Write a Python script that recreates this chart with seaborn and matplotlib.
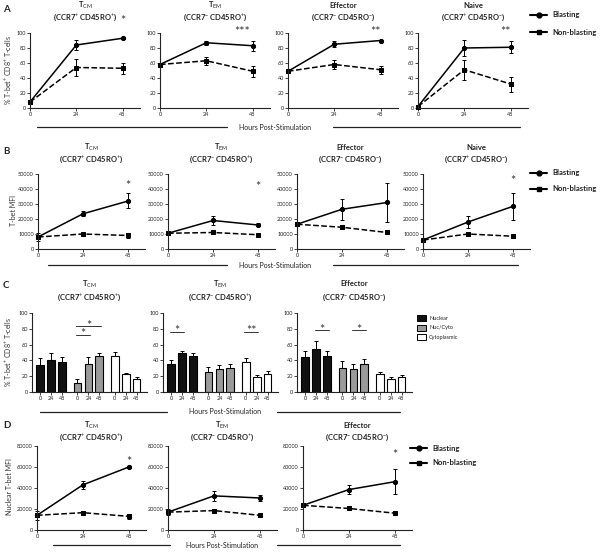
import numpy as np
import pandas as pd
import seaborn as sns
import matplotlib.pyplot as plt
from matplotlib.lines import Line2D
from matplotlib.patches import Rectangle

sns.set_style("ticks")
plt.rcParams['font.family'] = ['Lato', 'DejaVu Sans']
plt.rcParams['mathtext.fontset'] = 'custom'
plt.rcParams['mathtext.rm'] = 'Lato'
plt.rcParams['mathtext.bf'] = 'Lato:bold'
plt.rcParams['mathtext.it'] = 'Lato:italic'

# ---- data -------------------------------------------------------------
hours = [0, 24, 48]
names = [r'T$_{\rm CM}$', r'T$_{\rm EM}$', 'Effector', 'Naive']
phenos = [r'(CCR7$^{+}$ CD45RO$^{+}$)', r'(CCR7$^{-}$ CD45RO$^{+}$)',
          r'(CCR7$^{-}$ CD45RO$^{-}$)', r'(CCR7$^{+}$ CD45RO$^{-}$)']

# A: % T-bet+ CD8+ T-cells
a_blast = [[8, 84, 93], [58, 87, 83], [49, 85, 90], [2, 80, 81]]
a_blast_err = [[1, 7, 1], [2, 3, 7], [2, 4, 1], [1, 11, 8]]
a_non = [[8, 54, 53], [58, 63, 49], [49, 58, 51], [2, 51, 32]]
a_non_err = [[1, 11, 7], [2, 5, 7], [2, 6, 5], [1, 13, 10]]
a_stars = ['*', '***', '**', '**']
a_star_y = [116, 102, 102, 102]

# B: T-bet MFI
b_blast = [[8000, 23500, 32000], [10500, 19000, 16000], [16500, 26500, 31000], [6000, 18000, 28500]]
b_blast_err = [[2500, 1500, 5000], [1000, 3000, 1000], [1500, 7000, 13000], [500, 4000, 9000]]
b_non = [[8000, 10000, 9000], [10500, 11000, 9500], [16500, 14500, 11000], [6000, 10000, 8500]]
b_non_err = [[1000, 500, 1500], [500, 500, 300], [1000, 1500, 500], [500, 1500, 1000]]
b_stars = ['*', '*', '', '*']
b_star_y = [42000, 41000, 0, 45000]

# C: localisation of T-bet (% of CD8+ T-cells)
compartments = ['Nuclear', 'Nuc/Cyto', 'Cytoplasmic']
c_nuc = [[34, 40, 38], [36, 50, 45], [44, 54, 45]]
c_nuc_err = [[9, 9, 6], [4, 2, 4], [8, 10, 7]]
c_nc = [[12, 36, 46], [25, 29, 30], [31, 29, 35]]
c_nc_err = [[4, 8, 4], [7, 5, 5], [8, 7, 7]]
c_cyto = [[46, 23, 16], [38, 19, 23], [23, 16, 19]]
c_cyto_err = [[5, 1, 3], [5, 2, 4], [2, 3, 3]]
# (bar from, bar to, height, label)
c_brackets = [[(3, 4, 72, '*'), (3, 5, 83, '*')],
              [(0, 1, 76, '*'), (6, 7, 76, '**')],
              [(1, 2, 78, '*'), (4, 5, 78, '*')]]

# D: nuclear T-bet MFI
d_blast = [[14000, 43000, 60000], [17000, 32500, 30500], [23500, 38500, 46000]]
d_blast_err = [[4000, 4000, 500], [3000, 5000, 3000], [1000, 4500, 12000]]
d_non = [[14000, 16500, 13000], [17000, 18500, 14000], [23500, 20500, 16000]]
d_non_err = [[1500, 1000, 2500], [1000, 500, 500], [1000, 1000, 500]]
d_stars = ['*', '', '*']
d_star_y = [65000, 0, 71000]

# ---- layout (pixel coordinates of a 600 x 554 canvas) ------------------
W, H = 600, 554
fig = plt.figure(figsize=(6, 5.54), dpi=100)


def px_axes(x0, top, width, bottom):
    return fig.add_axes([x0 / W, 1 - bottom / H, width / W, (bottom - top) / H])


def fx(x):
    return x / W


def fy(y):
    return 1 - y / H


def style(ax):
    sns.despine(ax=ax)
    ax.tick_params(labelsize=4, length=2, width=0.6, pad=1, colors='#222222')
    for s in ['left', 'bottom']:
        ax.spines[s].set_linewidth(0.8)
        ax.spines[s].set_color('#222222')
    ax.set_xlabel('')
    ax.set_ylabel('')


def title(ax, i, y1, y2):
    pos = ax.get_position()
    cx = (pos.x0 + pos.x1) / 2
    fig.text(cx, fy(y1), names[i], ha='center', va='center', fontsize=5.5, fontweight='bold', color='#222222')
    fig.text(cx, fy(y2), phenos[i], ha='center', va='center', fontsize=5.5, fontweight='bold', color='#222222')


def line_panel(ax, blast, blast_err, non, non_err, ymax, ystep, star, star_y):
    sns.lineplot(x=hours, y=blast, ax=ax, color='black', marker='o', ms=3, mec='black',
                 lw=1.1, errorbar=None, clip_on=False)
    sns.lineplot(x=hours, y=non, ax=ax, color='black', marker='s', ms=3, mec='black',
                 lw=1.1, linestyle='--', errorbar=None, clip_on=False)
    for v, e in [(blast, blast_err), (non, non_err)]:
        ax.errorbar(hours, v, yerr=e, fmt='none', ecolor='black', elinewidth=0.7,
                    capsize=1.5, capthick=0.7, clip_on=False)
    ax.set_xlim(0, 57)
    ax.set_ylim(0, ymax)
    ax.set_xticks(hours)
    ax.set_yticks(np.arange(0, ymax + 1, ystep))
    if star:
        ax.text(48 - (len(star) - 1) * 2.6, star_y, star, ha='center', va='center',
                fontsize=9, color='#333333', clip_on=False)
    style(ax)


def hours_label(y, x_text, seg1, seg2):
    fig.text(fx(x_text), fy(y), 'Hours Post-Stimulation', ha='center', va='center', fontsize=5, color='#222222')
    for a, b in (seg1, seg2):
        fig.add_artist(Line2D([fx(a), fx(b)], [fy(y), fy(y)], color='#222222', lw=0.9))


def line_legend(x, y1, y2):
    for yy, m, lab in [(y1, 'o', 'Blasting'), (y2, 's', 'Non-blasting')]:
        fig.add_artist(Line2D([fx(x), fx(x + 17)], [fy(yy), fy(yy)], color='black', lw=1.5))
        fig.add_artist(Line2D([fx(x + 8.5)], [fy(yy)], color='black', marker=m, ms=3.5))
        fig.text(fx(x + 22), fy(yy), lab, ha='left', va='center', fontsize=5.5, fontweight='bold', color='#222222')


letter_kw = dict(fontsize=7, fontweight='bold', ha='left', va='center')
ylab_kw = dict(fontsize=5, rotation=90, ha='center', va='center', color='#333333')

# ---- row A --------------------------------------------------------------
a_x0 = [30, 160, 288, 418]
for i in range(4):
    ax = px_axes(a_x0[i], 33, 110, 108)
    line_panel(ax, a_blast[i], a_blast_err[i], a_non[i], a_non_err[i], 100, 20, a_stars[i], a_star_y[i])
    title(ax, i, 5, 17)
fig.text(fx(3), fy(10), 'A', **letter_kw)
fig.text(fx(9), fy(70), r'% T-bet$^{+}$ CD8$^{+}$ T-cells', **ylab_kw)
hours_label(127, 275, (37, 227), (333, 520))
line_legend(530, 15, 32)

# ---- row B --------------------------------------------------------------
b_x0 = [38, 168, 297, 423]
for i in range(4):
    ax = px_axes(b_x0[i], 174, 107, 249)
    line_panel(ax, b_blast[i], b_blast_err[i], b_non[i], b_non_err[i], 50000, 10000, b_stars[i], b_star_y[i])
    title(ax, i, 147, 159)
fig.text(fx(3), fy(152), 'B', **letter_kw)
fig.text(fx(13), fy(211), 'T-bet MFI', **ylab_kw)
hours_label(265, 275, (48, 227), (333, 518))
line_legend(530, 173, 189)

# ---- row C --------------------------------------------------------------
c_pos = [0.8, 1.85, 2.9, 4.35, 5.4, 6.45, 7.9, 8.95, 10.0]
c_colors = {'Nuclear': '#111111', 'Nuc/Cyto': '#9a9a9a', 'Cytoplasmic': '#ffffff'}
c_x0 = [32, 163, 297]
for i in range(3):
    ax = px_axes(c_x0[i], 313, 115, 392)
    vals = c_nuc[i] + c_nc[i] + c_cyto[i]
    errs = c_nuc_err[i] + c_nc_err[i] + c_cyto_err[i]
    df = pd.DataFrame({'pos': c_pos, 'value': vals,
                       'compartment': [c for c in compartments for _ in hours]})
    sns.barplot(data=df, x='pos', y='value', hue='compartment', palette=c_colors,
                native_scale=True, dodge=False, width=0.72, errorbar=None,
                edgecolor='black', linewidth=0.8, legend=False, ax=ax)
    ax.errorbar(c_pos, vals, yerr=[np.zeros(9), errs], fmt='none', ecolor='black',
                elinewidth=0.7, capsize=1.5, capthick=0.7)
    for b0, b1, yb, lab in c_brackets[i]:
        ax.plot([c_pos[b0] - 0.15, c_pos[b1] + 0.15], [yb, yb], color='#333333', lw=0.7)
        ax.text((c_pos[b0] + c_pos[b1]) / 2, yb + 1, lab, ha='center', va='center',
                fontsize=9, color='#333333')
    ax.set_xlim(0, 11)
    ax.set_ylim(0, 100)
    ax.set_xticks(c_pos)
    ax.set_xticklabels([str(h) for _ in compartments for h in hours])
    ax.set_yticks(np.arange(0, 101, 20))
    style(ax)
    title(ax, i, 284, 297)
fig.text(fx(3), fy(285), 'C', **letter_kw)
fig.text(fx(9), fy(352), r'% T-bet$^{+}$ CD8$^{+}$ T-cells', **ylab_kw)
hours_label(412, 225, (40, 167), (277, 400))
for k, c in enumerate(compartments):
    yy = 318 + 9.5 * k
    fig.add_artist(Rectangle((fx(417), fy(yy + 3)), 9 / W, 6 / H, facecolor=c_colors[c],
                             edgecolor='black', lw=0.7))
    fig.text(fx(429), fy(yy), c, ha='left', va='center', fontsize=4, color='#222222')

# ---- row D --------------------------------------------------------------
d_x0 = [37, 168, 303]
for i in range(3):
    ax = px_axes(d_x0[i], 446, 109, 530)
    line_panel(ax, d_blast[i], d_blast_err[i], d_non[i], d_non_err[i], 80000, 20000, d_stars[i], d_star_y[i])
    title(ax, i, 425, 437)
fig.text(fx(3), fy(425), 'D', **letter_kw)
fig.text(fx(10), fy(487), 'Nuclear T-bet MFI', **ylab_kw)
hours_label(545, 222, (53, 170), (277, 400))
line_legend(410, 448, 463)

fig.savefig('out.png', dpi=100)
